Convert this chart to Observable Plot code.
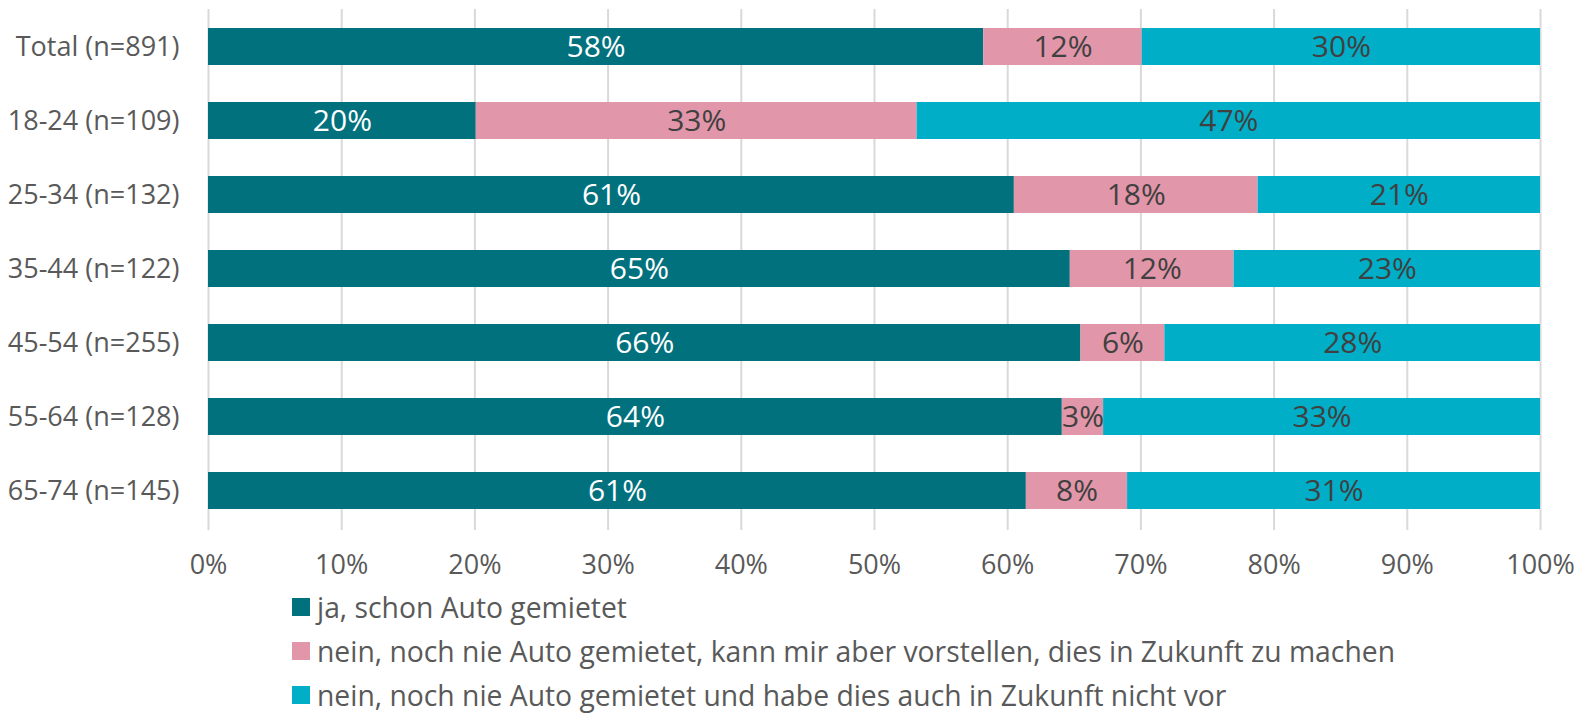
<!DOCTYPE html>
<html><head><meta charset="utf-8">
<script src="https://cdn.jsdelivr.net/npm/d3@7"></script>
<script src="https://cdn.jsdelivr.net/npm/@observablehq/plot@0.6"></script>
<style>
html,body{margin:0;padding:0;background:#fff;font-family:"Open Sans",sans-serif;}
#legend{margin-left:292px;}
.item{display:flex;align-items:center;height:44px;font-size:28.3px;color:#595959;white-space:nowrap;}
.sw{width:18px;height:18px;margin-right:7px;flex:none;}
</style></head><body>
<div id="chart"></div>
<div id="legend"></div>
<script>
const groups = ["Total (n=891)", "18-24 (n=109)", "25-34 (n=132)", "35-44 (n=122)", "45-54 (n=255)", "55-64 (n=128)", "65-74 (n=145)"];
const seriesNames = [
  "ja, schon Auto gemietet",
  "nein, noch nie Auto gemietet, kann mir aber vorstellen, dies in Zukunft zu machen",
  "nein, noch nie Auto gemietet und habe dies auch in Zukunft nicht vor"
];
const colors = ["#02717e", "#e296a9", "#00aec7"];
const ja = [58.2, 20.1, 60.5, 64.7, 65.5, 64.1, 61.4];
const vorstellbar = [11.9, 33.1, 18.3, 12.3, 6.3, 3.1, 7.6];
const nicht = [29.9, 46.8, 21.2, 23.0, 28.2, 32.8, 31.0];
const xTicks = [0, 10, 20, 30, 40, 50, 60, 70, 80, 90, 100];

const seriesValues = [ja, vorstellbar, nicht];
const data = [];
groups.forEach((g, i) => {
  seriesValues.forEach((arr, k) => data.push({group: g, series: seriesNames[k], k, value: arr[i]}));
});

const chart = Plot.plot({
  width: 1593, height: 585,
  marginLeft: 208, marginRight: 53, marginTop: 9, marginBottom: 58,
  style: {fontFamily: "'Open Sans', sans-serif", fontSize: "27px", color: "#595959", background: "#fff"},
  x: {domain: [0, 100], ticks: xTicks, tickFormat: d => d + "%", label: null, tickSize: 3, tickPadding: 24},
  y: {domain: groups, paddingInner: 0.5, paddingOuter: 0.25, label: null, tickSize: 0, tickPadding: 29},
  color: {domain: seriesNames, range: colors},
  marks: [
    Plot.ruleX(xTicks, {x: d => d, stroke: "#d9d9d9", strokeWidth: 2}),
    Plot.barX(data, Plot.stackX({x: "value", y: "group", z: "series", fill: "series", order: seriesNames})),
    Plot.text(data, Plot.stackX({
      x: "value", y: "group", z: "series", order: seriesNames,
      text: d => Math.round(d.value) + "%",
      fill: d => d.k === 0 ? "#ffffff" : "#404040",
      fontSize: 30
    }))
  ]
});
document.getElementById("chart").appendChild(chart);
d3.select(chart).selectAll('[aria-label="x-axis"] path, [aria-label="x-axis tick"] path')
  .attr("stroke", "#d9d9d9").attr("stroke-width", 2);

const legend = document.getElementById("legend");
seriesNames.forEach((name, k) => {
  const item = document.createElement("div");
  item.className = "item";
  const sw = document.createElement("span");
  sw.className = "sw";
  sw.style.background = colors[k];
  const t = document.createElement("span");
  t.textContent = name;
  item.appendChild(sw); item.appendChild(t);
  legend.appendChild(item);
});
</script>
</body></html>
